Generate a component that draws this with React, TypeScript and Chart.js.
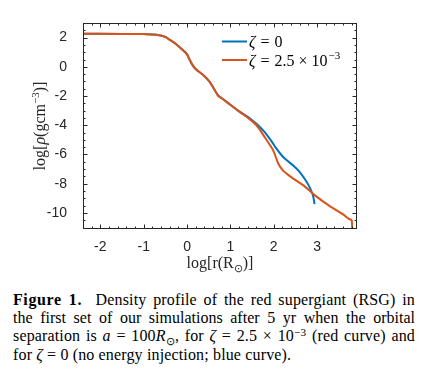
import React, { useEffect, useRef } from "react";
import { Chart, registerables } from "chart.js";
Chart.register(...registerables);

// ---- data ----
const blueX = [-2.4, -1.5, -1.0, -0.7, -0.5, -0.4, -0.25, -0.1, 0.0, 0.05, 0.12, 0.2, 0.35, 0.5, 0.58, 0.65, 0.72, 0.8, 1.0, 1.2,
  1.4, 1.6, 1.8, 1.95, 2.05, 2.18, 2.3, 2.45, 2.6, 2.72, 2.82, 2.88, 2.92, 2.94];
const blueY = [2.26, 2.25, 2.24, 2.2, 2.05, 1.85, 1.55, 1.15, 0.85, 0.55, 0.15, -0.15, -0.5, -0.95, -1.3, -1.65, -1.98, -2.15, -2.6, -3.05,
  -3.42, -3.9, -4.5, -5.1, -5.55, -6.05, -6.4, -6.75, -7.2, -7.7, -8.2, -8.6, -9.0, -9.4];
const orangeX = [-2.4, -1.5, -1.0, -0.7, -0.5, -0.4, -0.25, -0.1, 0.0, 0.05, 0.12, 0.2, 0.35, 0.5, 0.58, 0.65, 0.72, 0.8, 1.0, 1.2,
  1.4, 1.6, 1.8, 1.9, 2.0, 2.1, 2.2, 2.3, 2.45, 2.7, 2.95, 3.3, 3.6, 3.77, 3.8, 3.815];
const orangeY = [2.26, 2.25, 2.24, 2.2, 2.05, 1.85, 1.55, 1.15, 0.85, 0.55, 0.15, -0.15, -0.5, -0.95, -1.3, -1.65, -1.98, -2.15, -2.6, -3.05,
  -3.48, -4.0, -4.85, -5.3, -5.8, -6.6, -7.05, -7.32, -7.65, -8.15, -8.8, -9.55, -10.1, -10.45, -10.52, -11.4];
const xTicks = [-2, -1, 0, 1, 2, 3];
const yTicks = [2, 0, -2, -4, -6, -8, -10];
const xRange = [-2.4, 3.92];
const yRange = [-11.1, 3];
const xMinorStep = 0.2;
const yMinorStep = 0.5;
const seriesLabels = ["ζ = 0", "ζ = 2.5 × 10⁻³"];

const BLUE = "#0072BD";
const ORANGE = "#D95319";
const AXIS = "#262626";
const SERIF = '"Liberation Serif", "Times New Roman", serif';

type Seg = { t?: string; i?: boolean; sup?: boolean; sub?: boolean; gap?: number };

function segFont(s: Seg, size: number) {
  const sz = s.sup || s.sub ? Math.round(size * 0.7) : size;
  return `${s.i ? "italic " : ""}${sz}px ${SERIF}`;
}
function richWidth(ctx: CanvasRenderingContext2D, segs: Seg[], size: number) {
  let w = 0;
  for (const s of segs) {
    if (s.gap) { w += s.gap; continue; }
    ctx.font = segFont(s, size); w += ctx.measureText(s.t || "").width;
  }
  return w;
}
function drawRich(ctx: CanvasRenderingContext2D, segs: Seg[], x: number, y: number, size: number) {
  let cx = x;
  ctx.textBaseline = "alphabetic";
  ctx.textAlign = "left";
  for (const s of segs) {
    if (s.gap) { cx += s.gap; continue; }
    ctx.font = segFont(s, size);
    const dy = s.sup ? -size * 0.4 : s.sub ? size * 0.25 : 0;
    ctx.fillText(s.t || "", cx, y + dy);
    cx += ctx.measureText(s.t || "").width;
  }
}

const legendSegs: Seg[][] = [
  [{ t: "ζ", i: true }, { gap: 5 }, { t: "=" }, { gap: 5 }, { t: "0" }],
  [{ t: "ζ", i: true }, { gap: 5 }, { t: "=" }, { gap: 5 }, { t: "2.5" }, { gap: 4 }, { t: "×" }, { gap: 4 }, { t: "10" }, { gap: 1 }, { t: "−3", sup: true }],
];
const yTitle: Seg[] = [{ t: "log[" }, { t: "ρ", i: true }, { t: "(gcm" }, { t: "−3", sup: true }, { t: ")]" }];
const xTitle: Seg[] = [{ t: "log[r(R" }, { t: "⊙", sub: true }, { t: ")]" }];

const framePlugin = {
  id: "frameDecor",
  afterDatasetsDraw(chart: any) {
    const { ctx, chartArea, scales } = chart;
    const { left, right, top, bottom } = chartArea;
    const xs = scales.x, ys = scales.y;
    ctx.save();
    ctx.strokeStyle = AXIS;
    ctx.lineWidth = 1;
    ctx.beginPath();
    const x0 = Math.ceil(xRange[0] / xMinorStep - 1e-6);
    const x1 = Math.floor(xRange[1] / xMinorStep + 1e-6);
    for (let k = x0; k <= x1; k++) {
      const v = k * xMinorStep;
      const major = Math.abs(v - Math.round(v)) < 1e-6;
      const len = major ? 4.5 : 2.5;
      const px = Math.round(xs.getPixelForValue(v)) + 0.5;
      ctx.moveTo(px, bottom); ctx.lineTo(px, bottom - len);
      ctx.moveTo(px, top); ctx.lineTo(px, top + len);
    }
    const y0 = Math.ceil(yRange[0] / yMinorStep - 1e-6);
    const y1 = Math.floor(yRange[1] / yMinorStep + 1e-6);
    for (let k = y0; k <= y1; k++) {
      const v = k * yMinorStep;
      const major = Math.abs(v / 2 - Math.round(v / 2)) < 1e-6;
      const len = major ? 4.5 : 2.5;
      const py = Math.round(ys.getPixelForValue(v)) + 0.5;
      ctx.moveTo(left, py); ctx.lineTo(left + len, py);
      ctx.moveTo(right, py); ctx.lineTo(right - len, py);
    }
    ctx.stroke();
    ctx.strokeRect(Math.round(left) + 0.5, Math.round(top) + 0.5, Math.round(right - left) - 1, Math.round(bottom - top) - 1);

    // legend
    const ds = chart.data.datasets;
    const order = [1, 0];
    order.forEach((di: number, row: number) => {
      const yy = top + 18.5 + row * 18.5;
      ctx.strokeStyle = ds[di].borderColor;
      ctx.lineWidth = 2;
      ctx.beginPath();
      ctx.moveTo(right - 135, yy);
      ctx.lineTo(right - 110, yy);
      ctx.stroke();
      ctx.fillStyle = "#000";
      drawRich(ctx, legendSegs[row], right - 108, yy + 5.5, 16);
    });

    // axis titles
    ctx.fillStyle = AXIS;
    const wx = richWidth(ctx, xTitle, 16);
    drawRich(ctx, xTitle, (left + right) / 2 - wx / 2, 268, 16);
    ctx.save();
    ctx.translate(45, (top + bottom) / 2);
    ctx.rotate(-Math.PI / 2);
    const wy = richWidth(ctx, yTitle, 16);
    drawRich(ctx, yTitle, -wy / 2, 0, 16);
    ctx.restore();
    ctx.restore();
  },
};

export default function App() {
  const ref = useRef<HTMLCanvasElement | null>(null);
  useEffect(() => {
    if (!ref.current) return;
    const chart = new Chart(ref.current, {
      type: "line",
      data: {
        datasets: [
          {
            label: seriesLabels[1],
            data: orangeX.map((x, i) => ({ x, y: orangeY[i] })),
            borderColor: ORANGE,
            borderWidth: 2,
            pointRadius: 0,
            cubicInterpolationMode: "monotone",
            order: 0,
          },
          {
            label: seriesLabels[0],
            data: blueX.map((x, i) => ({ x, y: blueY[i] })),
            borderColor: BLUE,
            borderWidth: 2,
            pointRadius: 0,
            cubicInterpolationMode: "monotone",
            order: 1,
          },
        ],
      },
      options: {
        animation: false,
        responsive: false,
        devicePixelRatio: 1,
        layout: { padding: { left: 0, top: 23, right: 68, bottom: 0 } },
        plugins: { legend: { display: false }, tooltip: { enabled: false } },
        scales: {
          x: {
            type: "linear",
            min: xRange[0],
            max: xRange[1],
            grid: { display: false },
            border: { display: false },
            afterBuildTicks: (s: any) => { s.ticks = xTicks.map((v) => ({ value: v })); },
            afterFit: (s: any) => { s.height = 51; },
            ticks: { color: AXIS, font: { family: '"Liberation Sans", Arial, sans-serif', size: 14 }, padding: 2, maxRotation: 0, autoSkip: false },
          },
          y: {
            type: "linear",
            min: yRange[0],
            max: yRange[1],
            grid: { display: false },
            border: { display: false },
            afterBuildTicks: (s: any) => { s.ticks = yTicks.map((v) => ({ value: v })); },
            afterFit: (s: any) => { s.width = 83; },
            ticks: { color: AXIS, font: { family: '"Liberation Sans", Arial, sans-serif', size: 14 }, padding: 8 },
          },
        },
      },
      plugins: [framePlugin],
    } as any);
    return () => chart.destroy();
  }, []);

  const supStyle: React.CSSProperties = { fontSize: "0.7em", position: "relative", top: "-0.5em", lineHeight: 0, verticalAlign: "baseline" };
  const subStyle: React.CSSProperties = { fontSize: "0.7em", position: "relative", top: "0.3em", lineHeight: 0, verticalAlign: "baseline" };
  const just: React.CSSProperties = { textAlign: "justify", textAlignLast: "justify", whiteSpace: "nowrap" };

  return (
    <div style={{ position: "fixed", left: 0, top: 0, width: 425, height: 371, background: "#fff", overflow: "hidden" }}>
      <canvas ref={ref} width={425} height={280} style={{ position: "absolute", left: 0, top: 0, width: 425, height: 280 }} />
      <div style={{ position: "absolute", left: 13, top: 291, width: 402, fontFamily: SERIF, fontSize: 16, lineHeight: "18.2px", color: "#000", letterSpacing: "0.15px" }}>
        <div style={just}>
          <b style={{ letterSpacing: "0.6px" }}>Figure 1.</b>&nbsp; Density profile of the red supergiant (RSG) in
        </div>
        <div style={{ ...just, letterSpacing: "0px" }}>
          the first set of our simulations after 5 yr when the orbital
        </div>
        <div style={just}>
          separation is <i>a</i> = 100<i>R</i><span style={subStyle}>⊙</span>, for <i>ζ</i> = 2.5 × 10<span style={supStyle}>−3</span> (red curve) and
        </div>
        <div style={{ textAlign: "left", whiteSpace: "nowrap" }}>
          for <i>ζ</i> = 0 (no energy injection; blue curve).
        </div>
      </div>
    </div>
  );
}
